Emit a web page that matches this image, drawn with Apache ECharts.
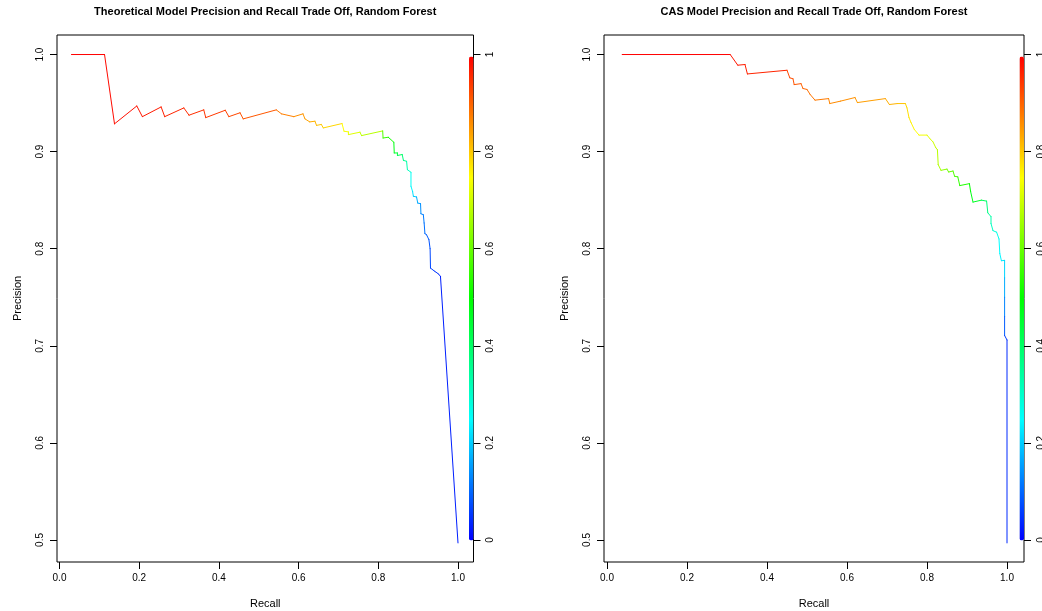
<!DOCTYPE html>
<html>
<head>
<meta charset="utf-8">
<script src="https://cdn.jsdelivr.net/npm/echarts@6/dist/echarts.min.js"></script>
<style>
  html, body { margin: 0; padding: 0; background: #ffffff; }
  #chart { width: 1042px; height: 611px; }
</style>
</head>
<body>
<div id="chart"></div>
<script>
// Precision / recall curves of two random forest models; every point carries the
// probability cutoff at which it was reached, which decides the segment colour.

const recallTheoretical = [0.030, 0.113, 0.138, 0.194, 0.208, 0.255, 0.264, 0.312, 0.325, 0.362,
  0.367, 0.416, 0.425, 0.453, 0.461, 0.544, 0.557, 0.588, 0.611, 0.616,
  0.628, 0.641, 0.645, 0.657, 0.662, 0.709, 0.714, 0.725, 0.725, 0.754,
  0.758, 0.811, 0.812, 0.825, 0.839, 0.840, 0.848, 0.848, 0.860, 0.863,
  0.871, 0.873, 0.882, 0.882, 0.886, 0.888, 0.896, 0.899, 0.906, 0.907,
  0.913, 0.915, 0.917, 0.921, 0.927, 0.930, 0.931, 0.942, 0.951, 0.956, 1.000];
const precisionTheoretical = [1.000, 1.000, 0.9286, 0.947, 0.936, 0.946, 0.936, 0.945, 0.9375, 0.943,
  0.935, 0.9426, 0.936, 0.940, 0.9337, 0.943, 0.9389, 0.936, 0.9389, 0.9337,
  0.9306, 0.9313, 0.927, 0.928, 0.9244, 0.9289, 0.921, 0.9203, 0.9175, 0.920,
  0.9165, 0.9213, 0.914, 0.9148, 0.9096, 0.8986, 0.8986, 0.896, 0.897, 0.891,
  0.890, 0.8814, 0.8787, 0.8643, 0.859, 0.854, 0.8533, 0.847, 0.8464, 0.836,
  0.835, 0.8265, 0.8155, 0.8144, 0.8093, 0.800, 0.780, 0.7766, 0.774, 0.7715, 0.497];
const cutoffTheoretical = [1.00, 0.99, 0.985, 0.98, 0.975, 0.97, 0.965, 0.96, 0.955, 0.95,
  0.945, 0.935, 0.93, 0.92, 0.915, 0.88, 0.875, 0.86, 0.85, 0.84,
  0.83, 0.82, 0.81, 0.80, 0.79, 0.75, 0.74, 0.73, 0.72, 0.69,
  0.68, 0.58, 0.55, 0.52, 0.48, 0.45, 0.43, 0.42, 0.38, 0.36,
  0.33, 0.31, 0.26, 0.24, 0.22, 0.20, 0.17, 0.16, 0.14, 0.13,
  0.12, 0.11, 0.10, 0.09, 0.08, 0.07, 0.06, 0.05, 0.04, 0.03, 0.00];

const recallCAS = [0.038, 0.308, 0.327, 0.345, 0.351, 0.450, 0.457, 0.465, 0.468, 0.485,
  0.490, 0.500, 0.508, 0.520, 0.554, 0.557, 0.584, 0.620, 0.626, 0.696,
  0.706, 0.726, 0.746, 0.750, 0.755, 0.760, 0.768, 0.780, 0.800, 0.808,
  0.815, 0.822, 0.826, 0.828, 0.835, 0.850, 0.854, 0.865, 0.869, 0.877,
  0.882, 0.906, 0.909, 0.915, 0.936, 0.949, 0.952, 0.960, 0.960, 0.965,
  0.974, 0.980, 0.982, 0.986, 0.994, 0.994, 0.994, 0.994, 0.994, 1.000, 1.000];
const precisionCAS = [1.000, 1.000, 0.989, 0.9897, 0.980, 0.9838, 0.976, 0.975, 0.969, 0.970,
  0.965, 0.964, 0.9588, 0.953, 0.9546, 0.9495, 0.952, 0.9557, 0.9505, 0.9546,
  0.9485, 0.9495, 0.9495, 0.945, 0.935, 0.930, 0.923, 0.917, 0.917, 0.913,
  0.910, 0.904, 0.902, 0.8866, 0.8807, 0.882, 0.879, 0.880, 0.8746, 0.874,
  0.865, 0.867, 0.859, 0.848, 0.850, 0.849, 0.837, 0.833, 0.826, 0.8186,
  0.817, 0.810, 0.795, 0.7876, 0.788, 0.770, 0.750, 0.730, 0.7106, 0.706, 0.497];
const cutoffCAS = [1.00, 0.98, 0.975, 0.97, 0.965, 0.93, 0.925, 0.92, 0.915, 0.905,
  0.90, 0.89, 0.885, 0.88, 0.87, 0.865, 0.86, 0.85, 0.845, 0.83,
  0.825, 0.81, 0.79, 0.78, 0.77, 0.76, 0.75, 0.74, 0.72, 0.71,
  0.70, 0.69, 0.68, 0.67, 0.64, 0.61, 0.60, 0.58, 0.57, 0.55,
  0.53, 0.50, 0.48, 0.46, 0.41, 0.38, 0.35, 0.33, 0.31, 0.29,
  0.27, 0.25, 0.24, 0.23, 0.21, 0.17, 0.13, 0.09, 0.06, 0.04, 0.00];

const titles = [
  'Theoretical Model Precision and Recall Trade Off, Random Forest',
  'CAS Model Precision and Recall Trade Off, Random Forest'
];
const recallTicks = [0, 0.2, 0.4, 0.6, 0.8, 1.0];
const precisionTicks = [0.5, 0.6, 0.7, 0.8, 0.9, 1.0];
const cutoffTicks = [0, 0.2, 0.4, 0.6, 0.8, 1];

// rainbow scale, blue (low cutoff) to red (high cutoff)
const rainbow = ['#0000ff', '#00ffff', '#00ff00', '#ffff00', '#ff0000'];

const FONT = 'Liberation Sans, Arial, Helvetica, sans-serif';

// panel frames: box edges in pixels plus the recall range each frame shows
const panels = [
  { left: 57, top: 35, right: 473.5, bottom: 562, xMin: -0.0063, xMax: 1.0389 },
  { left: 604, top: 35, right: 1024, bottom: 562, xMin: -0.0075, xMax: 1.0425 }
];
const precisionRange = [0.47732, 1.0201];
// the cutoff scale shares the frame: cutoff 0 sits on precision 0.5, cutoff 1 on precision 1
const cutoffRange = [(precisionRange[0] - 0.5) * 2, (precisionRange[1] - 0.5) * 2];

function segments(rec, prec, cut) {
  const out = [];
  for (let i = 0; i < rec.length - 1; i++) {
    out.push([rec[i], prec[i], rec[i + 1], prec[i + 1], cut[i]]);
  }
  return out;
}

function renderSegment(params, api) {
  const a = api.coord([api.value(0), api.value(1)]);
  const b = api.coord([api.value(2), api.value(3)]);
  return {
    type: 'line',
    shape: { x1: a[0], y1: a[1], x2: b[0], y2: b[1] },
    style: { stroke: api.visual('color'), lineWidth: 1, lineCap: 'round' }
  };
}

const tickStyle = { show: true, inside: false, length: 7, lineStyle: { color: '#000', width: 1 } };
const labelStyle = { color: '#000', fontSize: 10, fontFamily: FONT };
const nameStyle = { color: '#000', fontSize: 11, fontFamily: FONT };
const hiddenLine = { show: false, onZero: false };

const grids = [], xAxes = [], yAxes = [], series = [], visualMaps = [], titleOpts = [];
const curves = [
  segments(recallTheoretical, precisionTheoretical, cutoffTheoretical),
  segments(recallCAS, precisionCAS, cutoffCAS)
];

panels.forEach((p, i) => {
  grids.push({
    left: p.left, top: p.top, width: p.right - p.left, height: p.bottom - p.top,
    show: true, borderColor: '#000', borderWidth: 1, backgroundColor: 'transparent',
    outerBoundsMode: 'none', containLabel: false
  });
  titleOpts.push({
    text: titles[i], left: (p.left + p.right) / 2, top: 6, textAlign: 'center', padding: 0,
    textStyle: { fontSize: 11, fontWeight: 'bold', fontFamily: FONT, color: '#000' }
  });
  xAxes.push({
    type: 'value', gridIndex: i, position: 'bottom', min: p.xMin, max: p.xMax,
    name: 'Recall', nameLocation: 'middle', nameGap: 36, nameTextStyle: nameStyle,
    axisLine: hiddenLine,
    axisTick: Object.assign({ customValues: recallTicks }, tickStyle),
    axisLabel: Object.assign({ customValues: recallTicks, margin: 11, formatter: v => v.toFixed(1) }, labelStyle),
    splitLine: { show: false }
  });
  yAxes.push({
    type: 'value', gridIndex: i, position: 'left', min: precisionRange[0], max: precisionRange[1],
    name: 'Precision', nameLocation: 'middle', nameGap: 34, nameTextStyle: nameStyle,
    axisLine: hiddenLine,
    axisTick: Object.assign({ customValues: precisionTicks }, tickStyle),
    axisLabel: Object.assign({ customValues: precisionTicks, rotate: 90, margin: 12, formatter: v => v.toFixed(1) }, labelStyle),
    splitLine: { show: false }
  });
  yAxes.push({
    type: 'value', gridIndex: i, position: 'right', min: cutoffRange[0], max: cutoffRange[1],
    axisLine: hiddenLine,
    axisTick: Object.assign({ customValues: cutoffTicks }, tickStyle),
    axisLabel: Object.assign({ customValues: cutoffTicks, rotate: 90, margin: 12, formatter: v => String(+v.toFixed(1)) }, labelStyle),
    splitLine: { show: false }
  });
  series.push({
    type: 'custom', xAxisIndex: i, yAxisIndex: i * 2, data: curves[i],
    renderItem: renderSegment, clip: false, silent: true,
    encode: { x: [0, 2], y: [1, 3] }
  });
  // colour key drawn inside the frame along its right edge
  visualMaps.push({
    type: 'continuous', seriesIndex: i, dimension: 4, min: 0, max: 1,
    inRange: { color: rainbow }, calculable: false, hoverLink: false,
    orient: 'vertical', itemWidth: 4.5, itemHeight: 484,
    left: p.right - 4.5, top: 56.5, padding: 0
  });
});

const chart = echarts.init(document.getElementById('chart'), null, { renderer: 'canvas' });
chart.setOption({
  animation: false,
  backgroundColor: '#ffffff',
  title: titleOpts,
  grid: grids,
  xAxis: xAxes,
  yAxis: yAxes,
  visualMap: visualMaps,
  series: series
});
</script>
</body>
</html>
